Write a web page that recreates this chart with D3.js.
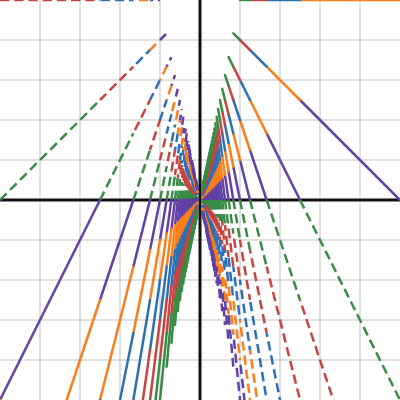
<!DOCTYPE html>
<html>
<head>
<meta charset="utf-8">
<script src="https://cdnjs.cloudflare.com/ajax/libs/d3/7.8.5/d3.min.js"></script>
<style>
    html, body { margin:0; padding:0; background:#fff; }
    svg { display:block; }
</style>
</head>
<body>
<div id="graphWrapper"></div>
<script>
//data
const ANCHOR_Y = 5; //every line goes through the point (0, ANCHOR_Y)
const slopes = [0,1,2,3,4,5,6,7,8,9,10,11,12,13,14,15,16,17,18,19,20,21,22,23,24,25,26,27,28,29,30,
    31,32,33,34,35,36,37,38,39,40,41,42,43,44,45,46,47,48,49,50,51,52,53,54,55,56,57,58,59,60,
    61,62,63,64,65,66,67,68,69,70,71,72,73,74,75,76,77,78,79,80];
const sectorRatios = [0,1,2,3,4,5]; //borders of |y/x| between the colour bands
const solidColors = ['#6042a6','#fa7e19','#2d70b3','#c74440','#388c46'];
const dashedColors = ['#388c46','#c74440','#2d70b3','#fa7e19','#6042a6'];
const gridTicks = [-4,-3,-2,-1,1,2,3,4];
const xDomain = [-5,5];
const yDomain = [-5,5];

//constants
const CONSTANTS = {
    WIDTH:400,
    HEIGHT:400,
    LINE_WIDTH:2.5,
    DASH:'9.4,4.8',
    GRID_COLOR:'rgba(0,0,0,0.12)',
    AXIS_COLOR:'#111',
    FAR:40 //how far (in data units) a line runs when it never meets the next ray
};

//quadrants: x sign, y sign and whether the lines are dashed there
const QUADRANTS = [
    {sx:1, sy:1, dashed:false},
    {sx:-1, sy:1, dashed:true},
    {sx:-1, sy:-1, dashed:false},
    {sx:1, sy:-1, dashed:true}
];

function main(){
    let svg = d3.select('#graphWrapper')
        .append('svg')
        .attr('width',CONSTANTS.WIDTH)
        .attr('height',CONSTANTS.HEIGHT);

    svg.append('defs').append('clipPath')
        .attr('id','view')
        .append('rect')
        .attr('width',CONSTANTS.WIDTH)
        .attr('height',CONSTANTS.HEIGHT);

    let xScale = d3.scaleLinear().domain(xDomain).range([0,CONSTANTS.WIDTH]);
    let yScale = d3.scaleLinear().domain(yDomain).range([CONSTANTS.HEIGHT,0]);

    buildGrid(svg,xScale,yScale);
    buildAxes(svg,xScale,yScale);
    buildLines(svg,xScale,yScale);
}

//light grid every unit
function buildGrid(svg,xScale,yScale){
    let g = svg.append('g').attr('id','grid');

    g.selectAll('line.v')
        .data(gridTicks)
        .enter()
        .append('line')
        .attr('class','v')
        .attr('x1',d=>xScale(d))
        .attr('x2',d=>xScale(d))
        .attr('y1',0)
        .attr('y2',CONSTANTS.HEIGHT);

    g.selectAll('line.h')
        .data(gridTicks)
        .enter()
        .append('line')
        .attr('class','h')
        .attr('y1',d=>yScale(d))
        .attr('y2',d=>yScale(d))
        .attr('x1',0)
        .attr('x2',CONSTANTS.WIDTH);

    g.selectAll('line')
        .style('stroke',CONSTANTS.GRID_COLOR)
        .style('stroke-width',2);
}

function buildAxes(svg,xScale,yScale){
    let g = svg.append('g').attr('id','axes');

    g.append('line')
        .attr('x1',0).attr('x2',CONSTANTS.WIDTH)
        .attr('y1',yScale(0)).attr('y2',yScale(0));
    g.append('line')
        .attr('x1',xScale(0)).attr('x2',xScale(0))
        .attr('y1',0).attr('y2',CONSTANTS.HEIGHT);

    g.selectAll('line')
        .style('stroke',CONSTANTS.AXIS_COLOR)
        .style('stroke-width',3);
}

//x where the line y = ANCHOR_Y + s*x meets the ray |y/x| = r inside quadrant q
function crossing(q,s,r){
    let m = q.sx * q.sy * r;
    let d = m - s;
    if(d === 0){
        return null;
    }
    let x = ANCHOR_Y / d;
    if(Math.sign(x) !== q.sx){
        return null;
    }
    return x;
}

function buildLines(svg,xScale,yScale){
    let segments = [];

    QUADRANTS.forEach(q=>{
        slopes.forEach(n=>{
            let s = -q.sx * n;
            let start = null;

            for(let k = 1; k < sectorRatios.length; k++){
                let x0 = crossing(q,s,sectorRatios[k-1]);
                if(x0 === null){
                    continue;
                }
                let x1 = crossing(q,s,sectorRatios[k]);
                if(x1 === null){
                    x1 = q.sx * CONSTANTS.FAR;
                }
                let p0 = [xScale(x0),yScale(ANCHOR_Y + s*x0)];
                let p1 = [xScale(x1),yScale(ANCHOR_Y + s*x1)];
                if(start === null){
                    start = p0;
                }
                segments.push({
                    p0:p0,
                    p1:p1,
                    offset:Math.hypot(p0[0]-start[0],p0[1]-start[1]),
                    dashed:q.dashed,
                    color:q.dashed ? dashedColors[k-1] : solidColors[k-1]
                });
            }
        });
    });

    let g = svg.append('g')
        .attr('id','lines')
        .attr('clip-path','url(#view)');

    g.selectAll('line')
        .data(segments)
        .enter()
        .append('line')
        .attr('x1',d=>d.p0[0])
        .attr('y1',d=>d.p0[1])
        .attr('x2',d=>d.p1[0])
        .attr('y2',d=>d.p1[1])
        .style('stroke',d=>d.color)
        .style('stroke-width',CONSTANTS.LINE_WIDTH)
        .style('stroke-linecap',d=>d.dashed ? 'butt' : 'round')
        .style('stroke-dasharray',d=>d.dashed ? CONSTANTS.DASH : null)
        .style('stroke-dashoffset',d=>d.dashed ? -d.offset : null);
}

main();
</script>
</body>
</html>
